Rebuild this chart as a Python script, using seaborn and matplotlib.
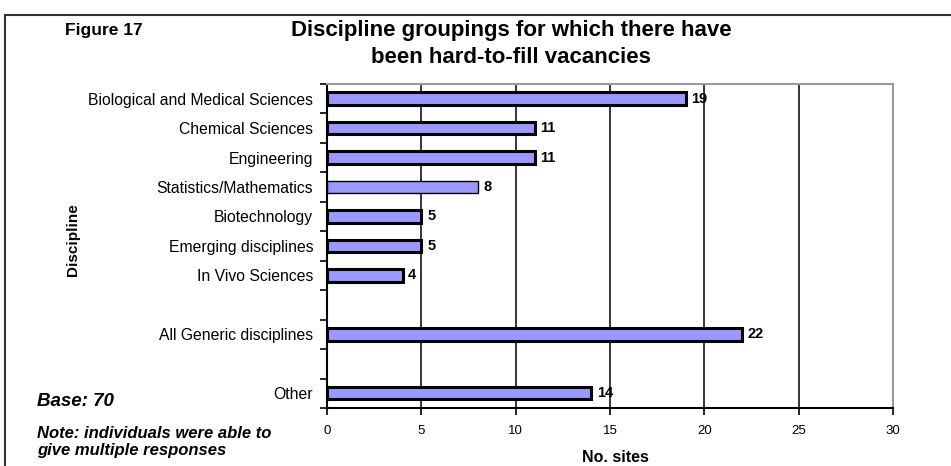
import numpy as np
import pandas as pd
import matplotlib
matplotlib.use("Agg")
import matplotlib.pyplot as plt
from matplotlib.patches import Rectangle
from matplotlib.ticker import FixedLocator
import seaborn as sns

# Data
disciplines = [
    "Biological and Medical Sciences",
    "Chemical Sciences",
    "Engineering",
    "Statistics/Mathematics",
    "Biotechnology",
    "Emerging disciplines",
    "In Vivo Sciences",
    "All Generic disciplines",
    "Other",
]
sites = [19, 11, 11, 8, 5, 5, 4, 22, 14]
x_ticks = [0, 5, 10, 15, 20, 25, 30]

# Row order, with empty rows separating the groups
row_order = disciplines[:7] + [" "] + [disciplines[7]] + ["  "] + [disciplines[8]]

sns.set_theme(style="white")
plt.rcParams["font.family"] = ["Liberation Sans", "DejaVu Sans"]
plt.rcParams["text.color"] = "black"
plt.rcParams["xtick.color"] = "black"
plt.rcParams["ytick.color"] = "black"
plt.rcParams["xtick.labelcolor"] = "black"
plt.rcParams["ytick.labelcolor"] = "black"

df = pd.DataFrame({"Discipline": disciplines, "No. sites": sites})

fig = plt.figure(figsize=(9.51, 4.66), dpi=100)
ax = fig.add_axes([0.344, 0.1245, 0.595, 0.6955])

sns.barplot(data=df, x="No. sites", y="Discipline", order=row_order,
            orient="h", color="#9999ff", saturation=1, width=0.42,
            edgecolor="black", linewidth=2.2, ax=ax)

# thinner outline on the Statistics/Mathematics bar
for p in ax.patches:
    if abs(p.get_width() - 8) < 1e-9:
        p.set_linewidth(1.0)

ax.set_xlim(0, 30)
ax.set_ylim(len(row_order) - 0.5, -0.5)
ax.set_xticks(x_ticks)
ax.set_xticklabels([str(t) for t in x_ticks], fontsize=9.5)
ax.tick_params(axis="x", direction="out", length=5, width=1.2, color="black",
               labelcolor="black", bottom=True, pad=7)
ax.tick_params(axis="y", which="major", length=0, labelsize=11.3, pad=10,
               labelcolor="black")
ax.yaxis.set_minor_locator(FixedLocator(np.arange(-0.5, len(row_order), 1.0)))
ax.tick_params(axis="y", which="minor", direction="out", length=5, width=1.2,
               color="black", left=True)

for t in x_ticks[1:-1]:
    ax.axvline(t, color="black", lw=1.1, zorder=0)

for side in ["left", "bottom"]:
    ax.spines[side].set_color("black")
    ax.spines[side].set_linewidth(1.5)
for side in ["top", "right"]:
    ax.spines[side].set_color("#999999")
    ax.spines[side].set_linewidth(1.5)

ax.set_xlabel("")
ax.set_ylabel("")

# value labels
for name, v in zip(disciplines, sites):
    ax.text(v + 0.3, row_order.index(name), str(v), va="center", ha="left",
            fontsize=10.5, fontweight="bold", color="black")

# surrounding frame
fig.patches.append(Rectangle((5 / 951, -0.1), 1.2, 1 - 15 / 466 + 0.1,
                             transform=fig.transFigure, fill=False,
                             edgecolor="#333333", linewidth=1.5))

fig.text(65 / 951, 1 - 30 / 466, "Figure 17", fontsize=12.5, fontweight="bold",
         va="center", ha="left")
fig.text(511 / 951, 1 - 44 / 466,
         "Discipline groupings for which there have\nbeen hard-to-fill vacancies",
         fontsize=16, fontweight="bold", ha="center", va="center",
         linespacing=1.35)
fig.text(73 / 951, 1 - 240 / 466, "Discipline", rotation=90, fontsize=11,
         fontweight="bold", ha="center", va="center")
fig.text(37 / 951, 1 - 402 / 466, "Base: 70", fontsize=13.5, fontweight="bold",
         style="italic", ha="left", va="center")
fig.text(37 / 951, 1 - 442 / 466,
         "Note: individuals were able to\ngive multiple responses",
         fontsize=12, fontweight="bold", style="italic", ha="left",
         va="center", linespacing=1.15)
fig.text(615 / 951, 1 - 457 / 466, "No. sites", fontsize=11.5,
         fontweight="bold", ha="center", va="center")

fig.savefig("out.png", dpi=100)
